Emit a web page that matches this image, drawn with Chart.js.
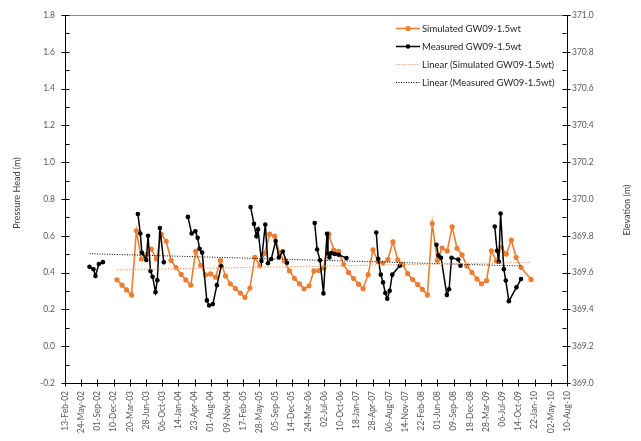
<!DOCTYPE html>
<html>
<head>
<meta charset="utf-8">
<script src="https://cdn.jsdelivr.net/npm/chart.js@4.4.1/dist/chart.umd.min.js"></script>
<style>
  html, body { margin:0; padding:0; background:#fff; }
  #wrap { width:641px; height:441px; }
</style>
</head>
<body>
<div id="wrap"><canvas id="gwChart" width="641" height="441"></canvas></div>
<script>
// GW09, 1.5 m below water table: simulated vs measured pressure head

const ORIGIN = Date.UTC(2002, 1, 13);   // first x tick (13-Feb-02)
const DAY = 86400000;

const xTickLabels = [
  '13-Feb-02','24-May-02','01-Sep-02','10-Dec-02','20-Mar-03','28-Jun-03','06-Oct-03','14-Jan-04',
  '23-Apr-04','01-Aug-04','09-Nov-04','17-Feb-05','28-May-05','05-Sep-05','14-Dec-05','24-Mar-06',
  '02-Jul-06','10-Oct-06','18-Jan-07','28-Apr-07','06-Aug-07','14-Nov-07','22-Feb-08','01-Jun-08',
  '09-Sep-08','18-Dec-08','28-Mar-09','06-Jul-09','14-Oct-09','22-Jan-10','02-May-10','10-Aug-10'
];
const X_TICK_STEP = 100;   // days between x ticks

// simulated head, end of each month
const simMonths = [
  '2002-12',
  '2003-01','2003-02','2003-03','2003-04','2003-05','2003-06','2003-07','2003-08','2003-09','2003-10','2003-11','2003-12',
  '2004-01','2004-02','2004-03','2004-04','2004-05','2004-06','2004-07','2004-08','2004-09','2004-10','2004-11','2004-12',
  '2005-01','2005-02','2005-03','2005-04','2005-05','2005-06','2005-07','2005-08','2005-09','2005-10','2005-11','2005-12',
  '2006-01','2006-02','2006-03','2006-04','2006-05','2006-06','2006-07','2006-08','2006-09','2006-10','2006-11','2006-12',
  '2007-01','2007-02','2007-03','2007-04','2007-05','2007-06','2007-07','2007-08','2007-09','2007-10','2007-11','2007-12',
  '2008-01','2008-02','2008-03','2008-04','2008-05','2008-06','2008-07','2008-08','2008-09','2008-10','2008-11','2008-12',
  '2009-01','2009-02','2009-03','2009-04','2009-05','2009-06','2009-07','2009-08','2009-09','2009-10','2009-12'
];
const simHead = [
  0.361,
  0.332, 0.306, 0.279, 0.627, 0.474, 0.496, 0.528, 0.474, 0.609, 0.570, 0.467, 0.427,
  0.391, 0.361, 0.332, 0.516, 0.440, 0.388, 0.393, 0.375, 0.465, 0.382, 0.339, 0.314,
  0.289, 0.266, 0.316, 0.483, 0.436, 0.505, 0.609, 0.598, 0.506, 0.463, 0.409, 0.369,
  0.339, 0.312, 0.328, 0.409, 0.412, 0.425, 0.609, 0.523, 0.516, 0.444, 0.401, 0.368,
  0.337, 0.312, 0.389, 0.524, 0.461, 0.452, 0.472, 0.568, 0.470, 0.444, 0.395, 0.362,
  0.336, 0.309, 0.279, 0.667, 0.466, 0.534, 0.518, 0.649, 0.532, 0.496, 0.436, 0.401,
  0.366, 0.339, 0.356, 0.519, 0.463, 0.536, 0.501, 0.577, 0.482, 0.428, 0.363
];

// measured head; null splits the logger campaigns
const measDates = [
  '2002-07-14','2002-08-08','2002-08-20','2002-09-10','2002-10-05', null,
  '2003-05-09','2003-05-24','2003-06-03','2003-06-30','2003-07-11','2003-07-26','2003-08-08','2003-08-26','2003-09-06','2003-09-22','2003-10-16', null,
  '2004-03-13','2004-04-05','2004-04-28','2004-05-12','2004-05-24','2004-06-09','2004-07-08','2004-07-22','2004-08-14','2004-09-08','2004-10-05', null,
  '2005-04-04','2005-04-25','2005-05-10','2005-05-20','2005-06-10','2005-07-04','2005-07-20','2005-08-10','2005-09-06','2005-09-26','2005-10-20','2005-11-15', null,
  '2006-05-05','2006-05-20','2006-06-07','2006-06-28','2006-07-20','2006-07-26','2006-08-04','2006-08-16','2006-09-06','2006-09-30','2006-11-17', null,
  '2007-05-20','2007-06-01','2007-06-17','2007-07-01','2007-07-15','2007-07-27','2007-08-11','2007-08-27','2007-10-12', null,
  '2008-05-26','2008-06-07','2008-06-23','2008-07-29','2008-08-12','2008-08-27','2008-10-08','2008-10-21', null,
  '2009-05-21','2009-06-04','2009-06-15','2009-06-26','2009-07-16','2009-07-28','2009-08-16','2009-10-02','2009-10-30'
];
const measHead = [
  0.432, 0.418, 0.382, 0.447, 0.457, null,
  0.719, 0.613, 0.508, 0.469, 0.600, 0.409, 0.378, 0.294, 0.359, 0.643, 0.456, null,
  0.703, 0.613, 0.625, 0.590, 0.530, 0.509, 0.249, 0.221, 0.229, 0.332, 0.435, null,
  0.757, 0.665, 0.598, 0.635, 0.463, 0.662, 0.451, 0.474, 0.572, 0.483, 0.515, 0.454, null,
  0.670, 0.526, 0.467, 0.287, 0.611, 0.504, 0.482, 0.506, 0.501, 0.497, 0.479, null,
  0.618, 0.475, 0.389, 0.347, 0.289, 0.258, 0.301, 0.389, 0.437, null,
  0.551, 0.493, 0.481, 0.279, 0.310, 0.481, 0.471, 0.438, null,
  0.651, 0.519, 0.459, 0.721, 0.419, 0.357, 0.245, 0.320, 0.365
];

// linear trend lines (first / last point)
const simTrendDates = ['2002-12-31', '2009-12-31'];
const simTrendHead = [0.415, 0.456];
const measTrendDates = ['2002-07-14', '2009-10-30'];
const measTrendHead = [0.503, 0.436];

const seriesNames = [
  'Simulated GW09-1.5wt',
  'Measured GW09-1.5wt',
  'Linear (Simulated GW09-1.5wt)',
  'Linear (Measured GW09-1.5wt)'
];

const ORANGE = '#ED7D31';
const ORANGE_TREND = '#F4A673';
const FONT = 'Lato, "Open Sans", sans-serif';
const TICK_COLOR = '#595959';

// days since the first x tick
function dayOf(iso){
  const [y, m, d] = iso.split('-').map(Number);
  return (Date.UTC(y, m - 1, d) - ORIGIN) / DAY;
}
function monthEnd(ym){
  const [y, m] = ym.split('-').map(Number);
  return (Date.UTC(y, m, 0) - ORIGIN) / DAY;
}

const simPoints = simMonths.map((m, i) => ({ x: monthEnd(m), y: simHead[i] }));
let lastX = 0;
const measPoints = measDates.map((d, i) => {
  if (d === null) return { x: lastX + 1, y: null };
  lastX = dayOf(d);
  return { x: lastX, y: measHead[i] };
});
const simTrend = simTrendDates.map((d, i) => ({ x: dayOf(d), y: simTrendHead[i] }));
const measTrend = measTrendDates.map((d, i) => ({ x: dayOf(d), y: measTrendHead[i] }));

function fmt1(v){
  return Math.abs(v) < 1e-9 ? '0.0' : Number(v).toFixed(1);
}

// tick marks, top frame line, rotated axis titles and the in-plot legend
const decorPlugin = {
  id: 'decor',
  afterDraw(chart){
    const { ctx, chartArea: a, scales } = chart;
    const L = Math.round(a.left) + 0.5, R = Math.round(a.right) - 0.5;
    const T = Math.round(a.top) + 0.5, B = Math.round(a.bottom) - 0.5;
    ctx.save();
    ctx.lineWidth = 1;

    ctx.strokeStyle = '#8c8c8c';
    ctx.beginPath(); ctx.moveTo(L, T); ctx.lineTo(R, T); ctx.stroke();

    ctx.strokeStyle = '#000';
    ctx.beginPath();
    for (let v = -2; v <= 18; v++){
      const y = Math.round(scales.y.getPixelForValue(v / 10)) + 0.5;
      if (v % 2 === 0){
        ctx.moveTo(L - 4, y); ctx.lineTo(L + 4, y);
        ctx.moveTo(R - 4, y); ctx.lineTo(R + 4, y);
      } else {
        ctx.moveTo(L, y); ctx.lineTo(L + 4, y);
        ctx.moveTo(R - 4, y); ctx.lineTo(R, y);
      }
    }
    xTickLabels.forEach((_, i) => {
      const x = Math.round(scales.x.getPixelForValue(i * X_TICK_STEP)) + 0.5;
      ctx.moveTo(x, B - 3); ctx.lineTo(x, B + 4);
    });
    ctx.stroke();

    // axis titles, both read bottom-to-top
    ctx.fillStyle = '#404040';
    ctx.font = '9px ' + FONT;
    ctx.textAlign = 'center';
    ctx.textBaseline = 'middle';
    [[17, 193, 'Pressure Head (m)'], [627, 210, 'Elevation (m)']].forEach(([x, y, t]) => {
      ctx.save();
      ctx.translate(x, y);
      ctx.rotate(-Math.PI / 2);
      ctx.fillText(t, 0, 0);
      ctx.restore();
    });

    // legend
    const rows = [27.5, 45.7, 63.5, 81.7];
    ctx.textAlign = 'left';
    ctx.font = '9.5px ' + FONT;
    chart.data.datasets.forEach((ds, i) => {
      const y = Math.round(rows[i]) + 0.5;
      ctx.strokeStyle = ds.borderColor;
      ctx.lineWidth = ds.borderWidth;
      ctx.setLineDash(ds.borderDash || []);
      ctx.beginPath(); ctx.moveTo(396, y); ctx.lineTo(420, y); ctx.stroke();
      ctx.setLineDash([]);
      if (ds.pointRadius > 0){
        ctx.fillStyle = ds.backgroundColor;
        ctx.beginPath(); ctx.arc(408, y, ds.pointRadius, 0, Math.PI * 2); ctx.fill();
      }
      ctx.fillStyle = '#262626';
      ctx.fillText(ds.label, 422, y);
    });
    ctx.restore();
  }
};

new Chart(document.getElementById('gwChart'), {
  type: 'line',
  data: {
    datasets: [
      {
        label: seriesNames[0],
        data: simPoints,
        borderColor: ORANGE,
        backgroundColor: ORANGE,
        borderWidth: 1.6,
        pointRadius: 2.6,
        pointBorderWidth: 0,
        order: 2
      },
      {
        label: seriesNames[1],
        data: measPoints,
        borderColor: '#000',
        backgroundColor: '#000',
        borderWidth: 1.5,
        pointRadius: 2.3,
        pointBorderWidth: 0,
        spanGaps: false,
        order: 1
      },
      {
        label: seriesNames[2],
        data: simTrend,
        borderColor: ORANGE_TREND,
        borderWidth: 1.2,
        borderDash: [1.5, 1.5],
        pointRadius: 0,
        order: 0
      },
      {
        label: seriesNames[3],
        data: measTrend,
        borderColor: '#000',
        borderWidth: 1,
        borderDash: [1, 1.5],
        pointRadius: 0,
        order: 0
      }
    ]
  },
  options: {
    responsive: false,
    animation: false,
    layout: { padding: { top: 13, left: 0, right: 0, bottom: 0 } },
    plugins: { legend: { display: false }, tooltip: { enabled: false } },
    elements: { line: { tension: 0 } },
    scales: {
      x: {
        type: 'linear',
        min: 0,
        max: (xTickLabels.length - 1) * X_TICK_STEP,
        afterBuildTicks: s => { s.ticks = xTickLabels.map((_, i) => ({ value: i * X_TICK_STEP })); },
        afterFit: s => { s.height = 58; },
        grid: { display: false, drawTicks: false },
        border: { color: '#000', width: 1 },
        ticks: {
          autoSkip: false,
          minRotation: 90,
          maxRotation: 90,
          padding: 8,
          color: TICK_COLOR,
          font: { family: FONT, size: 8.5 },
          callback: (v, i) => xTickLabels[i]
        }
      },
      y: {
        position: 'left',
        min: -0.2,
        max: 1.8,
        afterFit: s => { s.width = 65; },
        grid: { display: false, drawTicks: false },
        border: { color: '#000', width: 1 },
        ticks: {
          stepSize: 0.2,
          padding: 10,
          color: TICK_COLOR,
          font: { family: FONT, size: 8.5 },
          callback: v => fmt1(v)
        }
      },
      y2: {
        position: 'right',
        min: 369.0,
        max: 371.0,
        afterFit: s => { s.width = 74; },
        grid: { display: false, drawTicks: false },
        border: { color: '#000', width: 1 },
        ticks: {
          stepSize: 0.2,
          padding: 5,
          color: TICK_COLOR,
          font: { family: FONT, size: 8.5 },
          callback: v => fmt1(v)
        }
      }
    }
  },
  plugins: [decorPlugin]
});
</script>
</body>
</html>
